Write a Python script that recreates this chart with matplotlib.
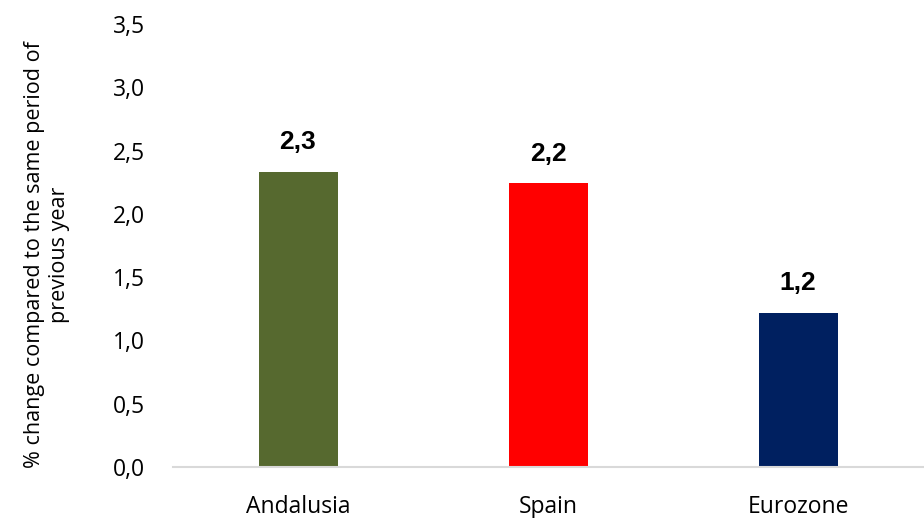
import numpy as np
import matplotlib
matplotlib.use("Agg")
import matplotlib.pyplot as plt

# --- data ---
regions = ["Andalusia", "Spain", "Eurozone"]
values = [2.33, 2.24, 1.22]
labels = ["2,3", "2,2", "1,2"]
colors = ["#56692F", "#FF0000", "#002060"]
yticks = [0.0, 0.5, 1.0, 1.5, 2.0, 2.5, 3.0, 3.5]

plt.rcParams['font.family'] = ['Open Sans', 'DejaVu Sans']

fig = plt.figure(figsize=(9.24, 5.18), dpi=100)
ax = fig.add_axes([173/924, 1 - 467/518, 750/924, (467 - 24)/518])

x = np.arange(len(regions))
bars = ax.bar(x, values, width=0.316, color=colors)

for bar, lab in zip(bars, labels):
    ax.text(bar.get_x() + bar.get_width()/2, bar.get_height() + 0.14, lab,
            ha='center', va='bottom', fontsize=19, fontweight='bold',
            family=['Liberation Sans', 'DejaVu Sans'])

ax.set_xlim(-0.5, 2.5)
ax.set_ylim(0, 3.5)
ax.set_yticks(yticks)
ax.set_yticklabels([f"{v:.1f}".replace('.', ',') for v in yticks])
ax.set_xticks(x)
ax.set_xticklabels(regions)
ax.tick_params(axis='both', length=0, labelsize=16.5, colors='#000000')
ax.tick_params(axis='y', pad=20)
ax.tick_params(axis='x', pad=20)

for s in ['top', 'right', 'left']:
    ax.spines[s].set_visible(False)
ax.spines['bottom'].set_color('#D9D9D9')
ax.spines['bottom'].set_linewidth(1.5)

fig.text(47/924, 1 - 255/518, "% change compared to the same period of\nprevious year",
         rotation=90, ha='center', va='center', fontsize=15.5, linespacing=1.3)

fig.savefig("out.png", dpi=100)
